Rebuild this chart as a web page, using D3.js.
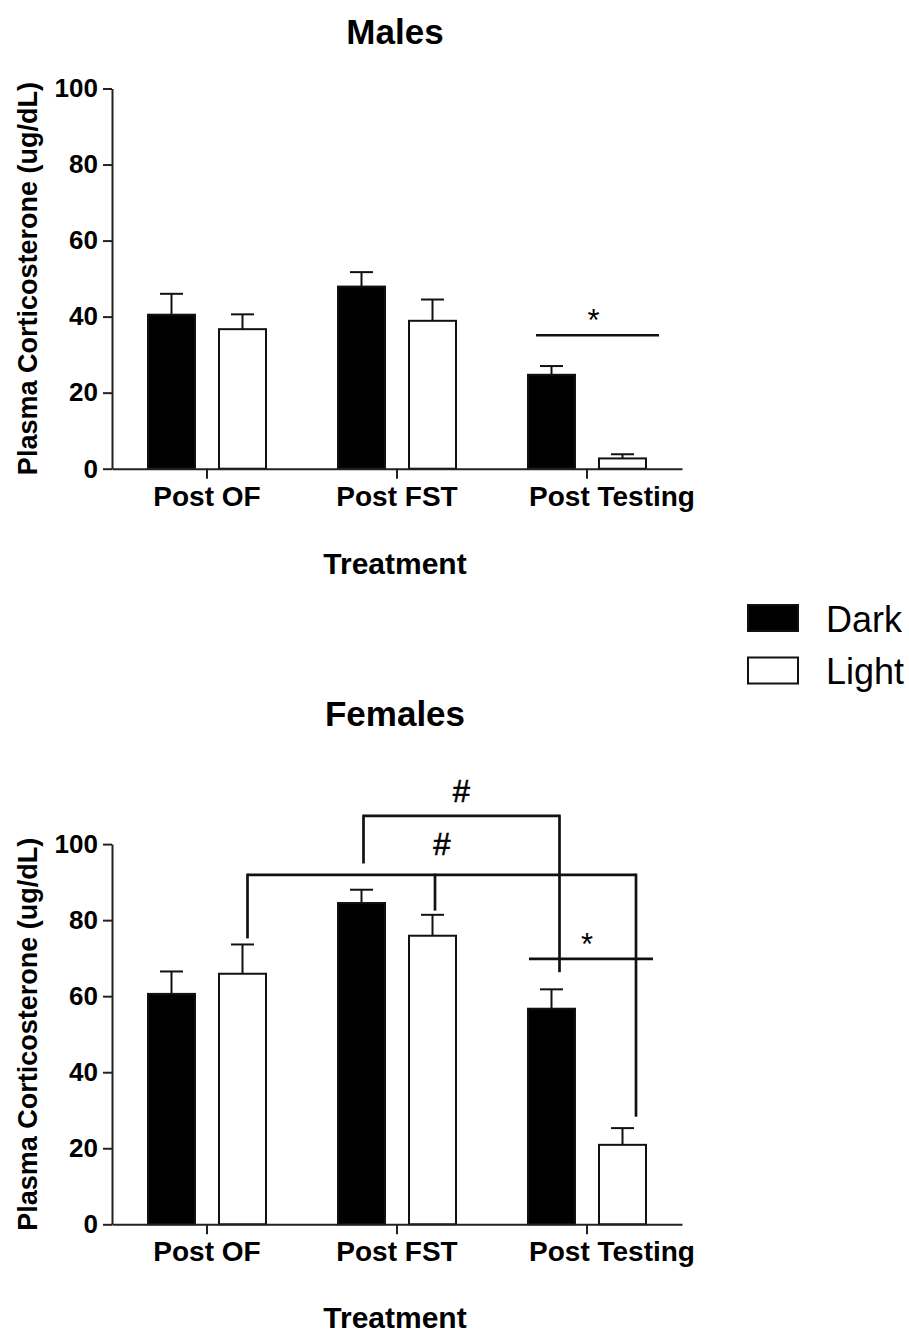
<!DOCTYPE html>
<html lang="en">
<head>
<meta charset="UTF-8">
<title>Plasma Corticosterone</title>
<script src="https://d3js.org/d3.v7.min.js"></script>
<style>
    body { margin: 0; background: #fff; }
    svg text { font-family: "Liberation Sans", Arial, sans-serif; fill: #000; }
</style>
</head>
<body>
<script>
    // data (means and SEM)
    var categories = ["Post OF", "Post FST", "Post Testing"];
    var groups = ["Dark", "Light"];
    var yTicks = [0, 20, 40, 60, 80, 100];

    var malesDark = [40.5, 47.9, 24.7];
    var malesDarkSem = [5.5, 3.8, 2.3];
    var malesLight = [36.7, 38.9, 2.7];
    var malesLightSem = [3.9, 5.6, 1.1];

    var femalesDark = [60.6, 84.5, 56.7];
    var femalesDarkSem = [5.9, 3.5, 5.1];
    var femalesLight = [65.9, 75.9, 20.9];
    var femalesLightSem = [7.7, 5.5, 4.4];

    // significance marks
    var malesStars = [
        { y: 35.1, from: ["Post Testing", "Dark"], to: ["Post Testing", "Light"], label: "*" }
    ];
    var femalesStars = [
        { y: 69.8, from: ["Post Testing", "Dark"], to: ["Post Testing", "Light"], label: "*" }
    ];
    var femalesBrackets = [
        { top: 91.9, label: "#", legs: [
            { cat: "Post OF", grp: "Light", bottom: 75.2 },
            { cat: "Post FST", grp: "Light", bottom: 82.5 },
            { cat: "Post Testing", grp: "Light", bottom: 28.3 }] },
        { top: 107.4, label: "#", legs: [
            { cat: "Post FST", grp: "Dark", bottom: 94.9 },
            { cat: "Post Testing", grp: "Dark", bottom: 66.3 }] }
    ];

    var W = 909, H = 1343;
    var svg = d3.select("body").append("svg")
        .attr("width", W)
        .attr("height", H);

    var x0 = d3.scaleBand().domain(categories).range([112, 682]).padding(0);
    var x1 = d3.scaleBand().domain(groups).range([0, x0.bandwidth()])
        .paddingInner(0.338).paddingOuter(0.507);

    function barCenter(cat, grp) {
        return x0(cat) + x1(grp) + x1.bandwidth() / 2;
    }

    function boldText(g, x, y, size, str) {
        return g.append("text")
            .attr("x", x).attr("y", y)
            .attr("text-anchor", "middle")
            .attr("font-size", size)
            .attr("font-weight", "bold")
            .text(str);
    }

    function drawPanel(cfg) {
        var y = d3.scaleLinear().domain([0, 100]).range([cfg.bottom, cfg.bottom - 380.2]);
        var g = svg.append("g");

        var rows = [];
        categories.forEach(function (c, i) {
            rows.push({ cat: c, grp: "Dark", v: cfg.dark[i], e: cfg.darkSem[i] });
            rows.push({ cat: c, grp: "Light", v: cfg.light[i], e: cfg.lightSem[i] });
        });

        // error bars (up only)
        var eb = g.selectAll(".err").data(rows).enter().append("g");
        eb.append("line")
            .attr("x1", function (d) { return barCenter(d.cat, d.grp); })
            .attr("x2", function (d) { return barCenter(d.cat, d.grp); })
            .attr("y1", function (d) { return y(d.v); })
            .attr("y2", function (d) { return y(d.v + d.e); })
            .attr("stroke", "#111").attr("stroke-width", 2);
        eb.append("line")
            .attr("x1", function (d) { return barCenter(d.cat, d.grp) - 11.5; })
            .attr("x2", function (d) { return barCenter(d.cat, d.grp) + 11.5; })
            .attr("y1", function (d) { return y(d.v + d.e); })
            .attr("y2", function (d) { return y(d.v + d.e); })
            .attr("stroke", "#111").attr("stroke-width", 2);

        // bars
        g.selectAll(".bar").data(rows).enter().append("rect")
            .attr("x", function (d) { return x0(d.cat) + x1(d.grp); })
            .attr("y", function (d) { return y(d.v); })
            .attr("width", x1.bandwidth())
            .attr("height", function (d) { return y(0) - y(d.v); })
            .attr("fill", function (d) { return d.grp == "Dark" ? "#000" : "#fff"; })
            .attr("stroke", "#111")
            .attr("stroke-width", 2);

        // axes
        var ya = g.append("g").attr("transform", "translate(112,0)")
            .call(d3.axisLeft(y).tickValues(yTicks).tickSize(9).tickSizeOuter(0).tickPadding(5));
        ya.selectAll("text").attr("font-size", 26).attr("font-weight", "bold")
            .style("font-family", "'Liberation Sans', Arial, sans-serif");
        var xa = g.append("g").attr("transform", "translate(0," + y(0) + ")")
            .call(d3.axisBottom(x0).tickSize(10).tickSizeOuter(0));
        xa.selectAll("text")
            .attr("y", 37).attr("dy", 0)
            // the last label sits right of its tick in the original
            .attr("x", function (d) { return d == "Post Testing" ? 25 : 0; })
            .attr("font-size", 28).attr("font-weight", "bold")
            .style("font-family", "'Liberation Sans', Arial, sans-serif");
        [ya, xa].forEach(function (a) {
            a.select(".domain").attr("stroke", "#222").attr("stroke-width", 2);
            a.selectAll(".tick line").attr("stroke", "#222").attr("stroke-width", 2);
        });

        // titles
        boldText(g, 395, cfg.titleY, 35, cfg.title);
        boldText(g, 395, cfg.treatY, 30, "Treatment");
        g.append("text")
            .attr("transform", "translate(37," + (y(0) + y(100)) / 2 + ") rotate(-90)")
            .attr("text-anchor", "middle").attr("font-size", 27).attr("font-weight", "bold")
            .text("Plasma Corticosterone (ug/dL)");

        // star lines
        (cfg.stars || []).forEach(function (s) {
            var xa0 = x0(s.from[0]) + x1(s.from[1]) + (cfg.starPad[0]);
            var xb = x0(s.to[0]) + x1(s.to[1]) + x1.bandwidth() + cfg.starPad[1];
            g.append("line").attr("x1", xa0).attr("x2", xb)
                .attr("y1", y(s.y)).attr("y2", y(s.y))
                .attr("stroke", "#111").attr("stroke-width", 2.7);
            g.append("text").attr("x", (xa0 + xb) / 2 - 4).attr("y", y(s.y) - 4)
                .attr("text-anchor", "middle").attr("font-size", 31).text(s.label);
        });

        // brackets
        (cfg.brackets || []).forEach(function (b, bi) {
            var xs = b.legs.map(function (l, li) { return barCenter(l.cat, l.grp) + cfg.legDx[bi][li]; });
            var xl = d3.min(xs), xr = d3.max(xs);
            g.append("line").attr("x1", xl).attr("x2", xr)
                .attr("y1", y(b.top)).attr("y2", y(b.top))
                .attr("stroke", "#111").attr("stroke-width", 2.7);
            b.legs.forEach(function (l, li) {
                g.append("line").attr("x1", xs[li]).attr("x2", xs[li])
                    .attr("y1", y(b.top) - 1.3).attr("y2", y(l.bottom))
                    .attr("stroke", "#111").attr("stroke-width", 2.7);
            });
            g.append("text").attr("x", (xl + xr) / 2).attr("y", y(b.top) - cfg.labelGap[bi])
                .attr("text-anchor", "middle").attr("font-size", 31)
                .attr("stroke", "#000").attr("stroke-width", 0.6)
                .text(b.label);
        });
    }

    drawPanel({
        title: "Males", titleY: 44, treatY: 574, bottom: 468.7,
        dark: malesDark, darkSem: malesDarkSem, light: malesLight, lightSem: malesLightSem,
        stars: malesStars, starPad: [8, 13]
    });
    drawPanel({
        title: "Females", titleY: 726, treatY: 1328, bottom: 1224.3,
        dark: femalesDark, darkSem: femalesDarkSem, light: femalesLight, lightSem: femalesLightSem,
        stars: femalesStars, starPad: [1, 7],
        brackets: femalesBrackets, legDx: [[5, 2.5, 13.5], [2, 8]], labelGap: [20, 14]
    });

    // legend
    var legend = svg.append("g").attr("transform", "translate(748,605)");
    legend.selectAll("rect").data(groups).enter().append("rect")
        .attr("x", 0)
        .attr("y", function (d, i) { return i * 52.5; })
        .attr("width", 50).attr("height", 26)
        .attr("fill", function (d) { return d == "Dark" ? "#000" : "#fff"; })
        .attr("stroke", "#111").attr("stroke-width", 2);
    legend.selectAll("text").data(groups).enter().append("text")
        .attr("x", 78)
        .attr("y", function (d, i) { return 26.5 + i * 52.5; })
        .attr("font-size", 36)
        .text(function (d) { return d; });
</script>
</body>
</html>
